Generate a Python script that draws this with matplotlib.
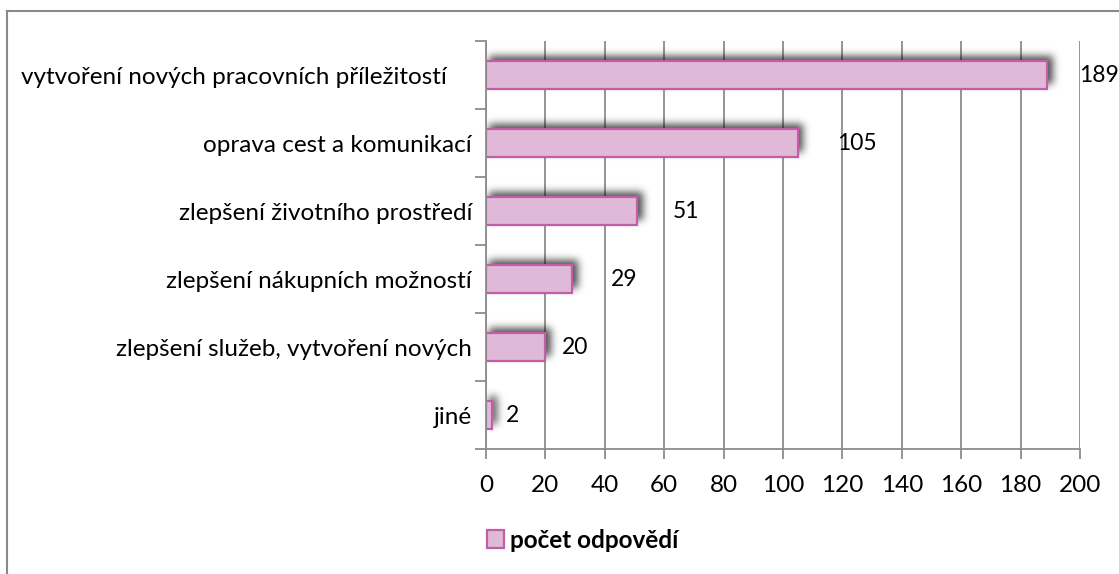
import numpy as np
import matplotlib
matplotlib.use("Agg")
import matplotlib.pyplot as plt
from matplotlib.patches import Patch
from matplotlib.lines import Line2D

categories = [
    "vytvoření nových pracovních příležitostí    ",
    "oprava cest a komunikací",
    "zlepšení životního prostředí",
    "zlepšení nákupních možností",
    "zlepšení služeb, vytvoření nových",
    "jiné",
]
counts = [189, 105, 51, 29, 20, 2]
# horizontal nudge (pixels) of each value label past the bar end
label_pad = [32, 39, 35, 39, 16, 14]
xticks = list(range(0, 201, 20))
legend_label = "počet odpovědí"

BAR_FILL = "#e0b9d9"
BAR_EDGE = "#c25ea4"
GRID = "#8c8c8c"

plt.rcParams["font.family"] = ["Lato", "DejaVu Sans"]
FS = 17.5
FS_VAL = 16.5

W, H, DPI = 1119, 574, 100
fig = plt.figure(figsize=(W / DPI, H / DPI), dpi=DPI)
fig.patch.set_facecolor("white")
ax = fig.add_axes([486 / W, 1 - 449 / H, (1080 - 486) / W, (449 - 41) / H])

n = len(categories)
ypos = np.arange(n)[::-1]
bars = ax.barh(ypos, counts, height=0.41, color=BAR_FILL, edgecolor=BAR_EDGE,
               linewidth=1.6, zorder=3)

ax.set_xlim(0, 200)
ax.set_ylim(-0.5, n - 0.5)

# soft drop shadow behind the bars, built as a blurred mask in pixel space
box = ax.get_window_extent()
aw, ah = int(round(box.width)), int(round(box.height))
mask = np.zeros((ah, aw))
for p in bars.patches:
    bb = p.get_window_extent()
    x0 = int(bb.x0 - box.x0) + 3
    x1 = int(bb.x1 - box.x0) + 6
    y0 = int(bb.y0 - box.y0) + 5
    y1 = int(bb.y1 - box.y0) + 6
    mask[max(y0, 0):min(y1, ah), max(x0, 0):min(x1, aw)] = 1.0
sig = 4.0
k = np.arange(-12, 13)
kern = np.exp(-k ** 2 / (2 * sig ** 2))
kern /= kern.sum()
mask = np.apply_along_axis(lambda r: np.convolve(r, kern, mode="same"), 1, mask)
mask = np.apply_along_axis(lambda c: np.convolve(c, kern, mode="same"), 0, mask)
shadow = np.zeros((ah, aw, 4))
shadow[..., 3] = mask * 0.7
ax.imshow(shadow, extent=(0, 200, -0.5, n - 0.5), origin="lower", aspect="auto",
          interpolation="bilinear", zorder=2)
ax.set_xlim(0, 200)
ax.set_ylim(-0.5, n - 0.5)

# axes styling
for s in ("top", "right"):
    ax.spines[s].set_visible(False)
for s in ("left", "bottom"):
    ax.spines[s].set_color(GRID)
    ax.spines[s].set_linewidth(1.3)
    ax.spines[s].set_zorder(4)

ax.set_xticks(xticks)
ax.set_xticklabels([str(t) for t in xticks], fontsize=FS)
ax.tick_params(axis="x", length=7, width=1.3, color=GRID, pad=12)
ax.xaxis.grid(True, color=GRID, linewidth=1.3, zorder=1)
ax.set_axisbelow(True)

ax.set_yticks(np.arange(-0.5, n, 1.0))
ax.set_yticklabels([])
ax.tick_params(axis="y", which="major", length=8, width=1.3, color=GRID)
ax.set_yticks(ypos, minor=True)
ax.set_yticklabels(categories, minor=True, fontsize=FS)
ax.tick_params(axis="y", which="minor", length=0, pad=10)

for p, v, dx in zip(bars.patches, counts, label_pad):
    ax.annotate(str(v), (p.get_width(), p.get_y() + p.get_height() / 2),
                xytext=(dx, 0), textcoords="offset pixels",
                ha="left", va="center", fontsize=FS_VAL, clip_on=False, zorder=5)

# legend below the plot
handle = Patch(facecolor=BAR_FILL, edgecolor=BAR_EDGE, linewidth=1.6)
fig.legend(handles=[handle], labels=[legend_label], loc="center left",
           bbox_to_anchor=(475 / W, 1 - 540 / H), frameon=False,
           handlelength=0.7, handleheight=0.7, handletextpad=0.25,
           borderpad=0, prop={"weight": "bold", "size": FS})

# outer chart frame (top and left edges)
fig.add_artist(Line2D([7 / W, 1.0], [1 - 11 / H, 1 - 11 / H], color="#8a8a8a", lw=1.5))
fig.add_artist(Line2D([7 / W, 7 / W], [0.0, 1 - 11 / H], color="#8a8a8a", lw=1.5))

fig.savefig("out.png", dpi=DPI)
